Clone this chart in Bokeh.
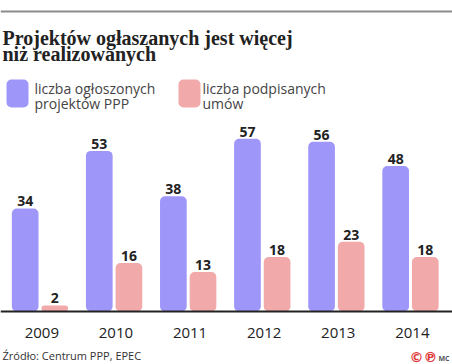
from bokeh.plotting import figure
from bokeh.models import ColumnDataSource, Range1d, Label, BoxAnnotation, Span
from bokeh.transform import dodge
from bokeh.core.properties import value
from bokeh.embed import file_html
from bokeh.resources import INLINE

years = [2009, 2010, 2011, 2012, 2013, 2014]
ogloszone = [34, 53, 38, 57, 56, 48]
podpisane = [2, 16, 13, 18, 23, 18]
year_labels = ["2009", "2010", "2011", "2012", "2013", "2014"]

title_lines = ["Projektów ogłaszanych jest więcej", "niż realizowanych"]
legend_1 = ["liczba ogłoszonych", "projektów PPP"]
legend_2 = ["liczba podpisanych", "umów"]
source_text = "Źródło: Centrum PPP, EPEC"

BLUE = "#9e96f9"
PINK = "#f2a9aa"
DARK = "#222222"
SANS = "Open Sans"

src = ColumnDataSource(dict(
    year=years,
    ogl=ogloszone,
    pod=podpisane,
    ogl_lbl=[str(v) for v in ogloszone],
    pod_lbl=[str(v) for v in podpisane],
    year_lbl=year_labels,
    zero=[0] * len(years),
))

p = figure(width=452, height=364, output_backend="svg", toolbar_location=None,
           x_range=Range1d(2008.467, 2014.567), y_range=Range1d(-17.5, 102.64),
           min_border=0, x_axis_location=None, y_axis_location=None)
p.outline_line_color = None
p.grid.visible = False
p.background_fill_color = "white"
p.border_fill_color = "white"

p.vbar(x=dodge("year", -0.2, range=p.x_range), top="ogl", width=0.36, source=src,
       fill_color=BLUE, line_color=None, border_radius=5)
p.vbar(x=dodge("year", 0.2, range=p.x_range), top="pod", width=0.36, source=src,
       fill_color=PINK, line_color=None, border_radius=5)

for col, off in (("ogl", -0.2), ("pod", 0.2)):
    p.text(x=dodge("year", off, range=p.x_range), y=col, text=col + "_lbl", source=src,
           text_align="center", text_baseline="alphabetic", y_offset=-7,
           text_font=value(SANS), text_font_style="bold", text_font_size="14px",
           text_color=DARK)

# baseline (axis line) and year labels
p.add_layout(Span(location=0, dimension="width", line_color=DARK, line_width=2))
p.text(x=dodge("year", 0.025, range=p.x_range), y="zero", text="year_lbl", source=src,
       text_align="center", text_baseline="alphabetic", y_offset=22,
       text_font=value(SANS), text_font_size="15px", text_color=DARK)

# top rule
p.add_layout(Span(location=99, dimension="width", line_color="#8c8c8c", line_width=2))

# title
for i, t in enumerate(title_lines):
    p.add_layout(Label(x=2, y=327 - 16 * i, x_units="screen", y_units="screen", text=t,
                       text_font="Liberation Serif", text_font_style="bold",
                       text_font_size="20px", text_color=DARK, text_baseline="alphabetic"))

# legend swatches
for left, color in ((6, BLUE), (178, PINK)):
    p.add_layout(BoxAnnotation(left=left, right=left + 22, bottom=257, top=285,
                               left_units="screen", right_units="screen",
                               bottom_units="screen", top_units="screen",
                               fill_color=color, fill_alpha=1, line_color=None,
                               border_radius=5))
for x0, lines in ((34, legend_1), (202, legend_2)):
    for i, t in enumerate(lines):
        p.add_layout(Label(x=x0, y=276 - 15 * i, x_units="screen", y_units="screen", text=t,
                           text_font=SANS, text_font_size="14px", text_color="#444444",
                           text_baseline="alphabetic"))

# source
p.add_layout(Label(x=2, y=9, x_units="screen", y_units="screen", text=source_text,
                   text_font=SANS, text_font_size="11px", text_color="#333333",
                   text_baseline="alphabetic"))
# logo
p.add_layout(Label(x=409, y=8, x_units="screen", y_units="screen", text="©℗",
                   text_font="DejaVu Sans", text_font_size="14px", text_color="#e03a3a",
                   text_font_style="bold", text_baseline="alphabetic"))
p.add_layout(Label(x=438, y=6, x_units="screen", y_units="screen", text="MC",
                   text_font=SANS, text_font_size="7px", text_color="#555555",
                   text_font_style="bold", text_baseline="alphabetic"))

open("out.html", "w").write(file_html(p, INLINE))
